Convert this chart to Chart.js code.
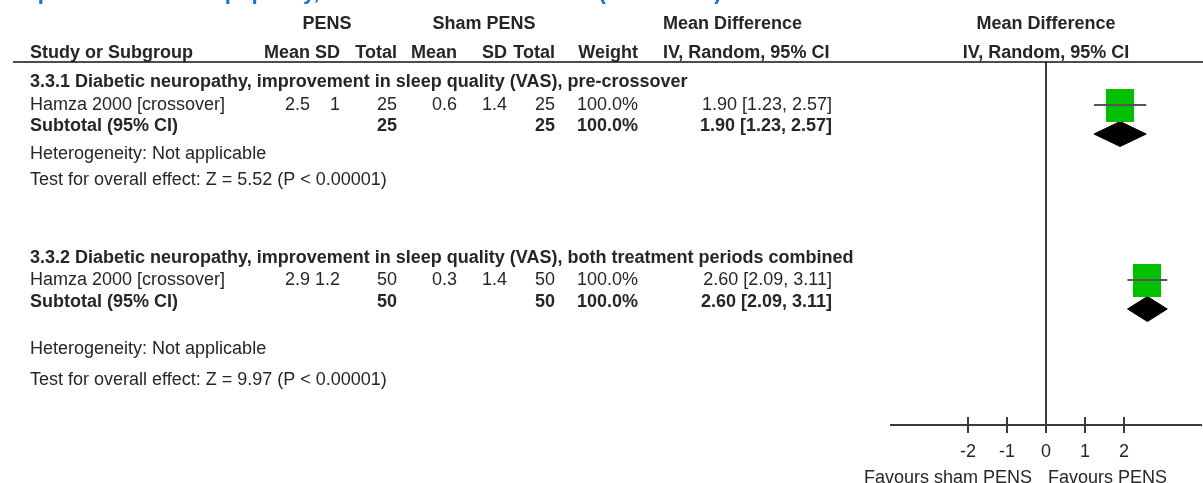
<!DOCTYPE html>
<html>
<head>
<meta charset="utf-8">
<script src="https://cdn.jsdelivr.net/npm/chart.js@4/dist/chart.umd.min.js"></script>
<style>
  html, body { margin: 0; padding: 0; background: #fff; }
  #forest { display: block; }
</style>
</head>
<body>
<canvas id="forest" width="1203" height="483"></canvas>
<script>
// Data
const plotTitle = 'Improvement in sleep quality, PENS versus sham PENS (VAS score)';
const subgroupNames = [
    '3.3.1 Diabetic neuropathy, improvement in sleep quality (VAS), pre-crossover',
    '3.3.2 Diabetic neuropathy, improvement in sleep quality (VAS), both treatment periods combined'
];
const studyNames = ['Hamza 2000 [crossover]', 'Hamza 2000 [crossover]'];
const pensMean = [2.5, 2.9];
const pensSD = [1, 1.2];
const pensTotal = [25, 50];
const shamMean = [0.6, 0.3];
const shamSD = [1.4, 1.4];
const shamTotal = [25, 50];
const studyWeight = [100.0, 100.0];
const meanDiff = [1.90, 2.60];
const ciLower = [1.23, 2.09];
const ciUpper = [2.57, 3.11];
const subtotalDiff = [1.90, 2.60];
const subtotalLower = [1.23, 2.09];
const subtotalUpper = [2.57, 3.11];
const heterogeneityText = ['Not applicable', 'Not applicable'];
const overallZ = [5.52, 9.97];
const overallP = ['P < 0.00001', 'P < 0.00001'];
const xTickValues = [-2, -1, 0, 1, 2];
const axisRange = [-4, 4];
const favoursLabels = ['Favours sham PENS', 'Favours PENS'];

// Layout (pixel rows of the table)
const FONT = '"Liberation Sans", Arial, sans-serif';
const TEXT_COLOR = '#262626';
const headerRow1 = 24;
const headerRow2 = 53;
const ruleY = 62;
const axisY = 425;
const groupRows = [
    { title: 82, study: 105, subtotal: 126, het: 154, test: 180 },
    { title: 258, study: 280, subtotal: 302, het: 349, test: 380 }
];
const cols = {
    study: 30, pensMean: 310, pensSD: 340, pensTotal: 397,
    shamMean: 457, shamSD: 507, shamTotal: 555, weight: 638,
    mdLeft: 663, mdRight: 832
};

// Study square (weight box)
const squareBox = document.createElement('canvas');
squareBox.width = 28;
squareBox.height = 33;
const sctx = squareBox.getContext('2d');
sctx.fillStyle = '#00c000';
sctx.fillRect(0, 0, 28, 33);

const fmtCI = (m, lo, hi) => `${m.toFixed(2)} [${lo.toFixed(2)}, ${hi.toFixed(2)}]`;

// Build datasets from the arrays
const datasets = [];

// zero line
datasets.push({
    data: [{ x: 0, y: ruleY }, { x: 0, y: axisY + 8 }],
    showLine: true, borderColor: '#3a3a3a', borderWidth: 2, pointRadius: 0
});
// axis line
datasets.push({
    data: [{ x: axisRange[0], y: axisY }, { x: axisRange[1], y: axisY }],
    showLine: true, borderColor: '#3a3a3a', borderWidth: 2, pointRadius: 0
});
// tick marks
datasets.push({
    data: xTickValues.map(v => ({ x: v, y: axisY })),
    pointStyle: 'line', rotation: 90, pointRadius: 8,
    borderColor: '#3a3a3a', pointBorderWidth: 2
});

meanDiff.forEach((m, i) => {
    const rows = groupRows[i];
    // confidence interval
    datasets.push({
        data: [{ x: ciLower[i], y: rows.study }, { x: ciUpper[i], y: rows.study }],
        showLine: true, borderColor: '#555555', borderWidth: 2, pointRadius: 0
    });
    // weight square
    datasets.push({
        data: [{ x: m, y: rows.study }],
        pointStyle: squareBox, pointRadius: 14
    });
    // subtotal diamond
    const d = subtotalDiff[i];
    const yc = rows.study + 29;
    datasets.push({
        data: [
            { x: subtotalLower[i], y: yc }, { x: d, y: yc - 12.5 },
            { x: subtotalUpper[i], y: yc }, { x: d, y: yc + 12.5 },
            { x: subtotalLower[i], y: yc }
        ],
        showLine: true, fill: 'shape', tension: 0,
        borderColor: '#000', backgroundColor: '#000', borderWidth: 1, pointRadius: 0
    });
});

function text(ctx, str, x, y, align, bold, size, color) {
    ctx.font = `${bold ? 'bold ' : ''}${size || 18}px ${FONT}`;
    ctx.textAlign = align || 'left';
    ctx.textBaseline = 'middle';
    ctx.fillStyle = color || TEXT_COLOR;
    ctx.fillText(str, x, y);
}

// Table text, headers, tick labels
const tablePlugin = {
    id: 'forestTable',
    afterDraw(chart) {
        const ctx = chart.ctx;
        const xs = chart.scales.x;
        ctx.save();

        // clipped figure title
        ctx.font = `bold 22px ${FONT}`;
        ctx.textAlign = 'left';
        ctx.textBaseline = 'alphabetic';
        ctx.fillStyle = '#1a73c6';
        ctx.fillText(plotTitle, 12, -1);

        const zeroX = xs.getPixelForValue(0);
        text(ctx, 'PENS', 327, headerRow1, 'center', true);
        text(ctx, 'Sham PENS', 484, headerRow1, 'center', true);
        text(ctx, 'Mean Difference', cols.mdLeft, headerRow1, 'left', true);
        text(ctx, 'Mean Difference', zeroX, headerRow1, 'center', true);

        text(ctx, 'Study or Subgroup', cols.study, headerRow2, 'left', true);
        text(ctx, 'Mean', cols.pensMean, headerRow2, 'right', true);
        text(ctx, 'SD', cols.pensSD, headerRow2, 'right', true);
        text(ctx, 'Total', cols.pensTotal, headerRow2, 'right', true);
        text(ctx, 'Mean', cols.shamMean, headerRow2, 'right', true);
        text(ctx, 'SD', cols.shamSD, headerRow2, 'right', true);
        text(ctx, 'Total', cols.shamTotal, headerRow2, 'right', true);
        text(ctx, 'Weight', cols.weight, headerRow2, 'right', true);
        text(ctx, 'IV, Random, 95% CI', cols.mdLeft, headerRow2, 'left', true);
        text(ctx, 'IV, Random, 95% CI', zeroX, headerRow2, 'center', true);

        ctx.strokeStyle = '#111';
        ctx.lineWidth = 1.5;
        ctx.beginPath();
        ctx.moveTo(13, ruleY);
        ctx.lineTo(1203, ruleY);
        ctx.stroke();

        subgroupNames.forEach((name, i) => {
            const r = groupRows[i];
            text(ctx, name, cols.study, r.title, 'left', true);

            text(ctx, studyNames[i], cols.study, r.study, 'left', false);
            text(ctx, String(pensMean[i]), cols.pensMean, r.study, 'right');
            text(ctx, String(pensSD[i]), cols.pensSD, r.study, 'right');
            text(ctx, String(pensTotal[i]), cols.pensTotal, r.study, 'right');
            text(ctx, String(shamMean[i]), cols.shamMean, r.study, 'right');
            text(ctx, String(shamSD[i]), cols.shamSD, r.study, 'right');
            text(ctx, String(shamTotal[i]), cols.shamTotal, r.study, 'right');
            text(ctx, studyWeight[i].toFixed(1) + '%', cols.weight, r.study, 'right');
            text(ctx, fmtCI(meanDiff[i], ciLower[i], ciUpper[i]), cols.mdRight, r.study, 'right');

            text(ctx, 'Subtotal (95% CI)', cols.study, r.subtotal, 'left', true);
            text(ctx, String(pensTotal[i]), cols.pensTotal, r.subtotal, 'right', true);
            text(ctx, String(shamTotal[i]), cols.shamTotal, r.subtotal, 'right', true);
            text(ctx, studyWeight[i].toFixed(1) + '%', cols.weight, r.subtotal, 'right', true);
            text(ctx, fmtCI(subtotalDiff[i], subtotalLower[i], subtotalUpper[i]), cols.mdRight, r.subtotal, 'right', true);

            text(ctx, 'Heterogeneity: ' + heterogeneityText[i], cols.study, r.het, 'left');
            text(ctx, `Test for overall effect: Z = ${overallZ[i].toFixed(2)} (${overallP[i]})`, cols.study, r.test, 'left');
        });

        // tick labels and favours labels
        xTickValues.forEach(v => {
            text(ctx, String(v), xs.getPixelForValue(v), 452, 'center');
        });
        text(ctx, favoursLabels[0], zeroX - 14, 478, 'right');
        text(ctx, favoursLabels[1], zeroX + 2, 478, 'left');

        ctx.restore();
    }
};

new Chart(document.getElementById('forest'), {
    type: 'scatter',
    data: { datasets },
    options: {
        responsive: false,
        animation: false,
        events: [],
        layout: { autoPadding: false, padding: { left: 890, right: 1, top: 0, bottom: 0 } },
        scales: {
            x: { type: 'linear', min: axisRange[0], max: axisRange[1], display: false },
            y: { type: 'linear', min: 0, max: 483, reverse: true, display: false }
        },
        plugins: { legend: { display: false }, tooltip: { enabled: false } }
    },
    plugins: [tablePlugin]
});
</script>
</body>
</html>
